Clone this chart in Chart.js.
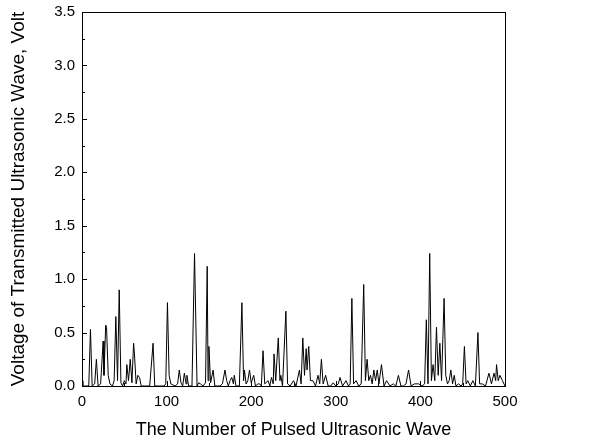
<!DOCTYPE html>
<html>
<head>
<meta charset="utf-8">
<script src="https://cdn.jsdelivr.net/npm/chart.js@4"></script>
<style>
    body { margin: 0; background: #fff; }
</style>
</head>
<body>
<canvas id="waveChart" width="602" height="447"></canvas>
<script>
const pulseNo = [
    0, 1, 3, 8, 10, 12, 15, 17, 19, 22,
    25, 26, 28, 29, 31, 33, 36, 38, 40, 42,
    44, 46, 48, 50, 52, 53, 55, 57, 59, 61,
    62, 64, 66, 68, 70, 75, 80, 84, 86, 97,
    99, 101, 103, 105, 110, 113, 115, 117, 119, 121,
    123, 124, 126, 130, 133, 136, 138, 140, 143, 146,
    148, 149, 150, 152, 155, 157, 163, 166, 169, 171,
    173, 175, 177, 179, 180, 182, 186, 189, 191, 192,
    194, 196, 198, 200, 203, 205, 208, 210, 212, 214,
    216, 220, 222, 224, 226, 227, 229, 232, 234, 235,
    237, 241, 243, 246, 250, 253, 257, 259, 261, 263,
    265, 266, 268, 270, 273, 276, 279, 281, 283, 285,
    288, 291, 294, 297, 300, 303, 305, 308, 312, 315,
    317, 319, 321, 324, 327, 330, 333, 335, 337, 339,
    341, 343, 345, 347, 349, 351, 354, 357, 360, 364,
    368, 371, 374, 377, 380, 383, 386, 389, 393, 398,
    402, 405, 407, 409, 411, 413, 415, 417, 419, 421,
    423, 425, 428, 430, 432, 434, 436, 438, 440, 442,
    445, 448, 450, 452, 454, 456, 459, 462, 465, 468,
    470, 473, 477, 481, 484, 487, 489, 490, 492, 494,
    497, 500
];
const voltage = [
    0.05, 0.0, 0.0, 0.0, 0.53, 0.0, 0.02, 0.25, 0.0, 0.02,
    0.42, 0.1, 0.57, 0.55, 0.1, 0.02, 0.0, 0.05, 0.65, 0.05,
    0.9, 0.03, 0.0, 0.05, 0.02, 0.2, 0.05, 0.25, 0.03, 0.4,
    0.3, 0.02, 0.1, 0.08, 0.0, 0.0, 0.0, 0.4, 0.0, 0.0,
    0.02, 0.78, 0.1, 0.02, 0.0, 0.02, 0.15, 0.03, 0.0, 0.12,
    0.02, 0.1, 0.0, 0.0, 1.24, 0.0, 0.03, 0.02, 0.0, 0.03,
    1.12, 0.05, 0.37, 0.03, 0.15, 0.0, 0.0, 0.02, 0.15, 0.05,
    0.0, 0.05, 0.08, 0.02, 0.1, 0.0, 0.0, 0.78, 0.05, 0.15,
    0.02, 0.05, 0.15, 0.03, 0.1, 0.0, 0.02, 0.02, 0.0, 0.33,
    0.02, 0.05, 0.0, 0.08, 0.02, 0.3, 0.05, 0.45, 0.05, 0.1,
    0.0, 0.7, 0.02, 0.0, 0.05, 0.0, 0.15, 0.02, 0.45, 0.1,
    0.35, 0.15, 0.37, 0.05, 0.05, 0.0, 0.1, 0.02, 0.25, 0.02,
    0.1, 0.0, 0.0, 0.03, 0.0, 0.02, 0.08, 0.0, 0.05, 0.0,
    0.02, 0.82, 0.02, 0.05, 0.0, 0.02, 0.95, 0.05, 0.25, 0.05,
    0.1, 0.02, 0.15, 0.05, 0.15, 0.02, 0.2, 0.0, 0.05, 0.0,
    0.02, 0.0, 0.1, 0.0, 0.0, 0.02, 0.15, 0.0, 0.02, 0.02,
    0.0, 0.02, 0.62, 0.02, 1.24, 0.05, 0.2, 0.05, 0.55, 0.1,
    0.4, 0.05, 0.82, 0.1, 0.02, 0.05, 0.15, 0.02, 0.1, 0.0,
    0.02, 0.0, 0.02, 0.37, 0.02, 0.05, 0.0, 0.05, 0.0, 0.5,
    0.02, 0.02, 0.0, 0.12, 0.02, 0.12, 0.05, 0.2, 0.05, 0.1,
    0.05, 0.0
];

const xMajor = [0, 100, 200, 300, 400, 500];
const xMinor = [50, 150, 250, 350, 450];
const yMajor = [0, 0.5, 1.0, 1.5, 2.0, 2.5, 3.0, 3.5];
const yMinor = [0.25, 0.75, 1.25, 1.75, 2.25, 2.75, 3.25];

const points = pulseNo.map((n, i) => ({ x: n, y: voltage[i] }));

// frame box + inward tick marks like the original plot
const frameTicks = {
    id: 'frameTicks',
    afterDraw(chart) {
        const ctx = chart.ctx;
        const a = chart.chartArea;
        const xs = chart.scales.x;
        const ys = chart.scales.y;
        ctx.save();
        ctx.strokeStyle = '#000';
        ctx.lineWidth = 1;
        ctx.strokeRect(a.left + 0.5, a.top + 0.5, a.right - a.left, a.bottom - a.top);
        ctx.beginPath();
        xMajor.forEach(v => {
            const p = Math.round(xs.getPixelForValue(v)) + 0.5;
            ctx.moveTo(p, a.bottom);
            ctx.lineTo(p, a.bottom - 5);
        });
        xMinor.forEach(v => {
            const p = Math.round(xs.getPixelForValue(v)) + 0.5;
            ctx.moveTo(p, a.bottom);
            ctx.lineTo(p, a.bottom - 3);
        });
        yMajor.forEach(v => {
            const p = Math.round(ys.getPixelForValue(v)) + 0.5;
            ctx.moveTo(a.left, p);
            ctx.lineTo(a.left + 5, p);
        });
        yMinor.forEach(v => {
            const p = Math.round(ys.getPixelForValue(v)) + 0.5;
            ctx.moveTo(a.left, p);
            ctx.lineTo(a.left + 3, p);
        });
        ctx.stroke();
        ctx.restore();
    }
};

const ctx = document.getElementById('waveChart').getContext('2d');

new Chart(ctx, {
    type: 'line',
    data: {
        datasets: [{
            data: points,
            borderColor: '#000',
            borderWidth: 1,
            pointRadius: 0,
            tension: 0,
            fill: false
        }]
    },
    options: {
        responsive: false,
        animation: false,
        layout: { padding: { left: 0, top: 12, right: 97, bottom: 0 } },
        plugins: {
            legend: { display: false },
            tooltip: { enabled: false }
        },
        scales: {
            x: {
                type: 'linear',
                min: 0,
                max: 500,
                grid: { display: false, drawTicks: false },
                border: { display: false },
                ticks: {
                    stepSize: 100,
                    color: '#000',
                    padding: 7,
                    font: { family: 'Liberation Sans', size: 15 }
                },
                title: {
                    display: true,
                    text: 'The Number of Pulsed Ultrasonic Wave',
                    color: '#000',
                    padding: { top: 0, bottom: 6 },
                    font: { family: 'Liberation Sans', size: 18 }
                },
                afterFit: s => { s.height = 61; s.paddingLeft = 0; s.paddingRight = 0; }
            },
            y: {
                min: 0,
                max: 3.5,
                grid: { display: false, drawTicks: false },
                border: { display: false },
                ticks: {
                    stepSize: 0.5,
                    color: '#000',
                    padding: 7,
                    font: { family: 'Liberation Sans', size: 15 },
                    callback: v => v.toFixed(1)
                },
                title: {
                    display: true,
                    text: 'Voltage of Transmitted Ultrasonic Wave, Volt',
                    color: '#000',
                    padding: { top: 7, bottom: 0 },
                    font: { family: 'Liberation Sans', size: 19 }
                },
                afterFit: s => { s.width = 82; s.paddingTop = 0; s.paddingBottom = 0; }
            }
        }
    },
    plugins: [frameTicks]
});
</script>
</body>
</html>
